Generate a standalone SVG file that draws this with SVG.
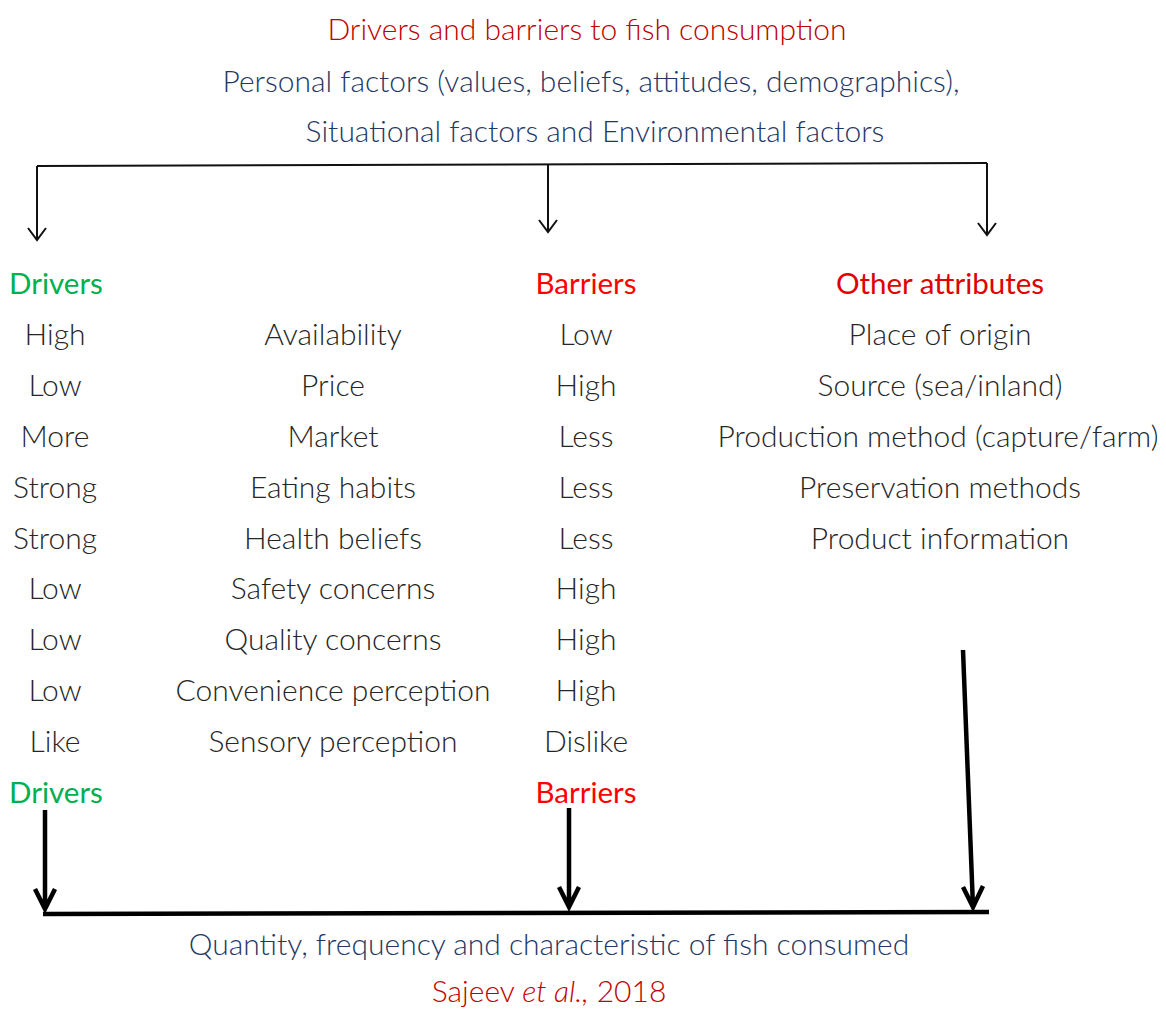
<svg xmlns="http://www.w3.org/2000/svg" width="1166" height="1009" viewBox="0 0 1166 1009">
<defs>
<style>
text{font-family:"Lato","Open Sans","Liberation Sans",sans-serif;font-weight:300;font-size:30px;text-anchor:middle;fill:#262626}
.title{fill:#C00000}
.sub{fill:#1F3864}
.drv{fill:#00B050;font-weight:400;font-size:29.5px}
.bar{fill:#FF0000;font-weight:400;font-size:29.5px}
.oth{fill:#E00000;font-weight:400;font-size:29.5px}
.thin{fill:none;stroke:#111;stroke-width:2}
.thick{fill:none;stroke:#000;stroke-width:4.5}
</style>
</defs>
<rect width="1166" height="1009" fill="#fff"/>
<g id="header">
<text x="587" y="40" class="title">Drivers and barriers to fish consumption</text>
<text x="591" y="92" class="sub">Personal factors (values, beliefs, attitudes, demographics),</text>
<text x="595" y="142" class="sub">Situational factors and Environmental factors</text>
</g>
<g id="connectors">
<path class="thin" d="M37,166 L987,163"/>
<path class="thin" d="M37,166 L37,240 M28,228 L37,240 L46,228"/>
<path class="thin" d="M548,164 L548,232 M539,220 L548,232 L557,220"/>
<path class="thin" d="M987,163 L987,235 M978,223 L987,235 L996,223"/>
<path class="thick" d="M45,810 L45,909 M35,889 L45,909 L55,889"/>
<path class="thick" d="M569,808 L569,907 M559,887 L569,907 L579,887"/>
<path class="thick" d="M963,650 L973,907 M963,887 L973,907 L983,886"/>
<path class="thick" d="M43,914 L989,912"/>
</g>
<g id="drivers">
<text x="56" y="294" class="drv">Drivers</text>
<text x="55" y="345">High</text>
<text x="55" y="396">Low</text>
<text x="55" y="447">More</text>
<text x="55" y="498">Strong</text>
<text x="55" y="549">Strong</text>
<text x="55" y="599">Low</text>
<text x="55" y="650">Low</text>
<text x="55" y="701">Low</text>
<text x="55" y="752">Like</text>
<text x="56" y="803" class="drv">Drivers</text>
</g>
<g id="factors">
<text x="333" y="345">Availability</text>
<text x="333" y="396">Price</text>
<text x="333" y="447">Market</text>
<text x="333" y="498">Eating habits</text>
<text x="333" y="549">Health beliefs</text>
<text x="333" y="599">Safety concerns</text>
<text x="333" y="650">Quality concerns</text>
<text x="333" y="701">Convenience perception</text>
<text x="333" y="752">Sensory perception</text>
</g>
<g id="barriers">
<text x="586" y="294" class="bar">Barriers</text>
<text x="586" y="345">Low</text>
<text x="586" y="396">High</text>
<text x="586" y="447">Less</text>
<text x="586" y="498">Less</text>
<text x="586" y="549">Less</text>
<text x="586" y="599">High</text>
<text x="586" y="650">High</text>
<text x="586" y="701">High</text>
<text x="586" y="752">Dislike</text>
<text x="586" y="803" class="bar">Barriers</text>
</g>
<g id="other">
<text x="940" y="294" class="oth">Other attributes</text>
<text x="940" y="345">Place of origin</text>
<text x="940" y="396">Source (sea/inland)</text>
<text x="938" y="447">Production method (capture/farm)</text>
<text x="940" y="498">Preservation methods</text>
<text x="940" y="549">Product information</text>
</g>
<g id="outcome">
<text x="549" y="955" class="sub">Quantity, frequency and characteristic of fish consumed</text>
<text x="549" y="1002" class="title">Sajeev <tspan font-style="italic">et al.,</tspan> 2018</text>
</g>
</svg>
